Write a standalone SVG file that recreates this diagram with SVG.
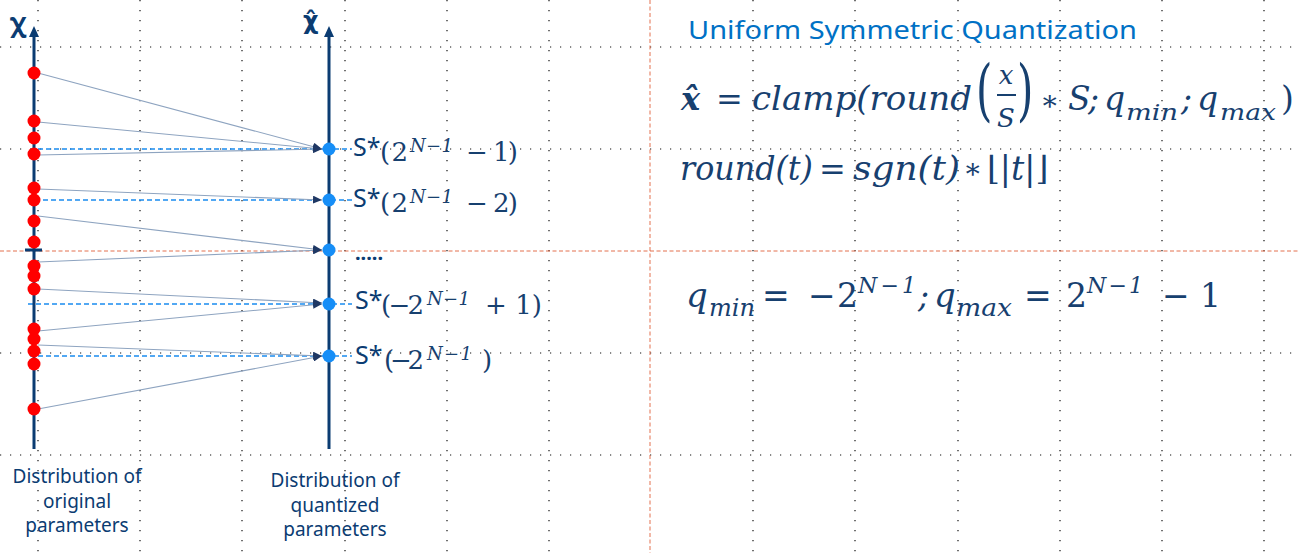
<svg xmlns="http://www.w3.org/2000/svg" width="1299" height="553" viewBox="0 0 1299 553">
<style>
.grid{stroke:#111;stroke-width:1.2;stroke-dasharray:1.2 8.8;fill:none}
.redd{stroke:#e0603a;stroke-width:0.9;stroke-dasharray:4 2.5;fill:none}
.bdash{stroke:#1a8cf0;stroke-width:1.3;stroke-dasharray:5 3;fill:none}
.conn{stroke:#8ea4c0;stroke-width:1.1;fill:none;marker-end:url(#ah)}
.rd{fill:#ff0000}
.bd{fill:#168ef7}
.ax{stroke:#0b3c72;stroke-width:3}
.axh{fill:#0b3c72}
.lbl{font-family:"Noto Sans","Liberation Sans",sans-serif;fill:#0b3c72}
.m{font-family:"DejaVu Serif","Liberation Serif",serif;font-style:italic;fill:#17406f}
.mu{font-family:"DejaVu Serif","Liberation Serif",serif;font-style:normal;fill:#17406f}
.title{font-family:"Noto Sans","Liberation Sans",sans-serif;fill:#0071c5}
</style>
<defs>
<marker id="ah" viewBox="0 0 9 8" refX="9" refY="4" markerWidth="9" markerHeight="8" markerUnits="userSpaceOnUse" orient="auto">
<path d="M0,0 L9,4 L0,8 z" fill="#1f3864"/>
</marker>
</defs>
<rect width="1299" height="553" fill="#ffffff"/>
<g id="grid">
<path class="grid" d="M38,0V553M140,0V553M242,0V553M345,0V553M447,0V553M549,0V553M753,0V553M855,0V553M958,0V553M1060,0V553M1162,0V553M1264,0V553"/>
<path class="grid" d="M0,47H1299M0,149H1299M0,353H1299M0,455H1299"/>
<path class="redd" d="M650,0V553M0,251H1299"/>
</g>
<g id="levels">
<path class="bdash" d="M38,149H352M35,200H352M28,304H352M30,356H352"/>
</g>
<g id="axis-original">
<line class="ax" x1="34" y1="449" x2="34" y2="34"/>
<polygon class="axh" points="34,26 39,37 29,37"/>
<rect x="25" y="248.5" width="17" height="3" fill="#0b3c72"/>
<text class="lbl" x="10" y="32" font-size="26" font-weight="bold">χ</text>
</g>
<g id="axis-quantized">
<line class="ax" x1="329" y1="449" x2="329" y2="34"/>
<polygon class="axh" points="329,26 334,37 324,37"/>
<text x="303" y="29" font-size="24" font-weight="bold" fill="#0b3c72" font-family="'DejaVu Sans',sans-serif">χ̂</text>
</g>
<g id="connectors">
<line class="conn" x1="38" y1="73" x2="322" y2="149"/>
<line class="conn" x1="38" y1="122" x2="322" y2="149"/>
<line class="conn" x1="38" y1="155" x2="322" y2="149"/>
<line class="conn" x1="38" y1="189" x2="322" y2="200"/>
<line class="conn" x1="38" y1="216" x2="322" y2="250"/>
<line class="conn" x1="38" y1="262" x2="322" y2="250"/>
<line class="conn" x1="38" y1="289" x2="322" y2="303"/>
<line class="conn" x1="38" y1="331" x2="322" y2="304"/>
<line class="conn" x1="38" y1="345" x2="322" y2="356"/>
<line class="conn" x1="38" y1="409" x2="322" y2="356"/>
</g>
<g id="original-points">
<circle class="rd" cx="34" cy="73" r="6.5"/>
<circle class="rd" cx="34" cy="121" r="6.5"/>
<circle class="rd" cx="34" cy="138" r="6.5"/>
<circle class="rd" cx="34" cy="154" r="6.5"/>
<circle class="rd" cx="34" cy="188" r="6.5"/>
<circle class="rd" cx="34" cy="200" r="6.5"/>
<circle class="rd" cx="34" cy="221" r="6.5"/>
<circle class="rd" cx="34" cy="242" r="6.5"/>
<circle class="rd" cx="34" cy="266" r="6.5"/>
<circle class="rd" cx="34" cy="276" r="6.5"/>
<circle class="rd" cx="34" cy="289" r="6.5"/>
<circle class="rd" cx="34" cy="329" r="6.5"/>
<circle class="rd" cx="34" cy="339" r="6.5"/>
<circle class="rd" cx="34" cy="351" r="6.5"/>
<circle class="rd" cx="34" cy="364" r="6.5"/>
<circle class="rd" cx="34" cy="409" r="6.5"/>
</g>
<g id="quantized-points">
<circle class="bd" cx="329" cy="149" r="6.5"/>
<circle class="bd" cx="329" cy="200" r="6.5"/>
<circle class="bd" cx="329" cy="250" r="6.5"/>
<circle class="bd" cx="329" cy="304" r="6.5"/>
<circle class="bd" cx="329" cy="356" r="6.5"/>
</g>
<g id="level-labels">
<text class="lbl" x="353" y="156" font-size="25">S*</text>
<text class="mu" x="380" y="161" font-size="26" textLength="28">(2</text>
<text class="m" x="410" y="152" font-size="18" textLength="43">N−1</text>
<text class="mu" x="466" y="161" font-size="26" textLength="52">− 1)</text>

<text class="lbl" x="353" y="207" font-size="25">S*</text>
<text class="mu" x="380" y="212" font-size="26" textLength="28">(2</text>
<text class="m" x="410" y="203" font-size="18" textLength="43">N−1</text>
<text class="mu" x="466" y="212" font-size="26" textLength="52">− 2)</text>

<text class="lbl" x="355" y="260" font-size="20" font-weight="bold">.....</text>

<text class="lbl" x="355" y="309" font-size="25">S*</text>
<text class="mu" x="381" y="314" font-size="26" textLength="43">(−2</text>
<text class="m" x="427" y="305" font-size="18" textLength="43">N−1</text>
<text class="mu" x="485" y="314" font-size="26" textLength="57">+ 1)</text>

<text class="lbl" x="355" y="364" font-size="25">S*</text>
<text class="mu" x="384" y="369" font-size="26" textLength="40">(−2</text>
<text class="m" x="427" y="360" font-size="18" textLength="45">N−1</text>
<text class="mu" x="482" y="369" font-size="26">)</text>
</g>
<g id="caption-original">
<text class="lbl" font-size="19" text-anchor="middle"><tspan x="77" y="483">Distribution of</tspan><tspan x="77" y="508">original</tspan><tspan x="77" y="532">parameters</tspan></text>
</g>
<g id="caption-quantized">
<text class="lbl" font-size="19" text-anchor="middle"><tspan x="335" y="487">Distribution of</tspan><tspan x="335" y="512">quantized</tspan><tspan x="335" y="536">parameters</tspan></text>
</g>
<g id="title">
<text class="title" x="688" y="39" font-size="25" textLength="449" lengthAdjust="spacingAndGlyphs">Uniform Symmetric Quantization</text>
</g>
<g id="formula-clamp">
<text class="m" x="681" y="110" font-size="32" font-weight="bold">x̂</text>
<text class="mu" x="716" y="110" font-size="32">=</text>
<text class="m" x="752" y="110" font-size="33" textLength="220" lengthAdjust="spacingAndGlyphs">clamp(round</text>
<text class="mu" font-size="42" transform="translate(976,113) scale(1,1.6)">(</text>
<text class="m" x="1006" y="84" font-size="26" text-anchor="middle">x</text>
<line x1="997" y1="95" x2="1016" y2="95" stroke="#17406f" stroke-width="2"/>
<text class="m" x="1006" y="127" font-size="26" text-anchor="middle">S</text>
<text class="mu" font-size="42" transform="translate(1017,113) scale(1,1.6)">)</text>
<text class="mu" x="1040" y="110" font-size="28">∗</text>
<text class="m" x="1068" y="110" font-size="33" textLength="31">S;</text>
<text class="m" x="1104" y="110" font-size="33">q</text>
<text class="m" x="1126" y="120" font-size="23" textLength="52" lengthAdjust="spacingAndGlyphs">min</text>
<text class="m" x="1181" y="110" font-size="33">;</text>
<text class="m" x="1197" y="110" font-size="33">q</text>
<text class="m" x="1220" y="120" font-size="23" textLength="56" lengthAdjust="spacingAndGlyphs">max</text>
<text class="mu" x="1281" y="110" font-size="33">)</text>
</g>
<g id="formula-round">
<text class="m" x="680" y="180" font-size="33" textLength="133" lengthAdjust="spacingAndGlyphs">round(t)</text>
<text class="mu" x="819" y="180" font-size="32">=</text>
<text class="m" x="853" y="180" font-size="33" textLength="107" lengthAdjust="spacingAndGlyphs">sgn(t)</text>
<text class="mu" x="963" y="178" font-size="28">∗</text>
<text class="mu" x="987" y="180" font-size="33">⌊|<tspan class="m">t</tspan>|⌋</text>
</g>
<g id="formula-range">
<text class="m" x="686" y="307" font-size="34">q</text>
<text class="m" x="709" y="316" font-size="24" textLength="46" lengthAdjust="spacingAndGlyphs">min</text>
<text class="mu" x="762" y="307" font-size="33">=</text>
<text class="mu" x="808" y="307" font-size="33" textLength="50">−2</text>
<text class="m" x="858" y="293" font-size="22" textLength="58">N−1</text>
<text class="m" x="918" y="307" font-size="33">;</text>
<text class="m" x="934" y="307" font-size="34">q</text>
<text class="m" x="956" y="316" font-size="24" textLength="56" lengthAdjust="spacingAndGlyphs">max</text>
<text class="mu" x="1024" y="307" font-size="33">=</text>
<text class="mu" x="1066" y="307" font-size="33">2</text>
<text class="m" x="1087" y="293" font-size="22" textLength="56">N−1</text>
<text class="mu" x="1162" y="307" font-size="33">−</text>
<text class="mu" x="1200" y="307" font-size="33">1</text>
</g>
</svg>
